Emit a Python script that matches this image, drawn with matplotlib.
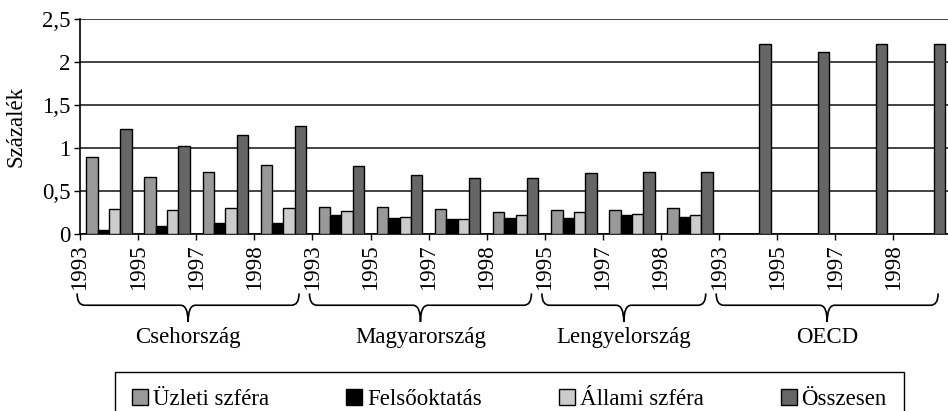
import numpy as np
import matplotlib.pyplot as plt
from matplotlib.path import Path
from matplotlib.patches import PathPatch
from matplotlib.transforms import blended_transform_factory

plt.rcParams['font.family'] = ['Liberation Serif', 'DejaVu Serif']

# Adatok (K+F ráfordítás a GDP százalékában)
orszagok = ['Csehország', 'Magyarország', 'Lengyelország', 'OECD']
evek = [
    ['1993', '1995', '1997', '1998'],
    ['1993', '1995', '1997', '1998'],
    ['1995', '1997', '1998'],
    ['1993', '1995', '1997', '1998'],
]
sorozatok = ['Üzleti szféra', 'Felsőoktatás', 'Állami szféra', 'Összesen']
nan = np.nan
uzleti = [0.90, 0.67, 0.73, 0.81, 0.32, 0.32, 0.29, 0.26, 0.28, 0.28, 0.30, nan, nan, nan, nan]
felso = [0.05, 0.10, 0.13, 0.13, 0.22, 0.19, 0.18, 0.19, 0.19, 0.22, 0.20, nan, nan, nan, nan]
allami = [0.29, 0.28, 0.31, 0.31, 0.27, 0.20, 0.18, 0.22, 0.26, 0.24, 0.22, nan, nan, nan, nan]
osszesen = [1.22, 1.03, 1.16, 1.26, 0.79, 0.69, 0.65, 0.65, 0.71, 0.73, 0.73, 2.21, 2.12, 2.21, 2.21]
szinek = ['#999999', '#000000', '#cccccc', '#666666']

fs = 16.5
fig = plt.figure(figsize=(9.48, 4.11), dpi=100)
ax = fig.add_axes([80 / 948, 1 - 234.3 / 411, 871.5 / 948, 215 / 411])

cimkek = [ev for csoport in evek for ev in csoport]
n = len(cimkek)
x = np.arange(n)
w = 0.195
for k, (ertek, nev, szin) in enumerate(zip([uzleti, felso, allami, osszesen], sorozatok, szinek)):
    ertek = np.array(ertek)
    van = ~np.isnan(ertek)  # hiányzó adatnál nincs oszlop
    ax.bar(x[van] + 0.5 + (k - 1.5) * w, ertek[van], width=w, color=szin, edgecolor='black',
           linewidth=1.0, label=nev, zorder=3)

ax.set_xlim(0, n)
ax.set_ylim(0, 2.5)
ax.set_xticks(x)
ax.set_xticklabels(cimkek, rotation=90, fontsize=fs)
yt = [0, 0.5, 1, 1.5, 2, 2.5]
ax.set_yticks(yt)
ax.set_yticklabels([f'{v:g}'.replace('.', ',') for v in yt], fontsize=fs)
ax.tick_params(direction='out', length=4, width=1, pad=3, colors='black')
ax.yaxis.grid(True, color='#222222', linewidth=1.2, zorder=0)
ax.spines['top'].set_visible(False)
ax.spines['right'].set_visible(False)
ax.spines['left'].set_linewidth(1.2)
ax.spines['bottom'].set_linewidth(1.2)
ax.set_ylabel('Százalék', fontsize=fs, labelpad=11)

# Kapcsos zárójelek az országcsoportok alatt
tr = blended_transform_factory(ax.transData, ax.transAxes)
yt0, ym, ytip = -0.275, -0.33, -0.408
start = 0
for orszag, csoport in zip(orszagok, evek):
    x0 = start - 0.05
    x1 = start + len(csoport) - 0.23
    xc = (x0 + x1) / 2
    r = 0.13
    verts = [(x0, yt0), (x0, ym), (x0 + r, ym),
             (xc - r, ym), (xc, ym), (xc, ytip),
             (xc, ym), (xc + r, ym),
             (x1 - r, ym), (x1, ym), (x1, yt0)]
    codes = [Path.MOVETO, Path.CURVE3, Path.CURVE3,
             Path.LINETO, Path.CURVE3, Path.CURVE3,
             Path.CURVE3, Path.CURVE3,
             Path.LINETO, Path.CURVE3, Path.CURVE3]
    ax.add_patch(PathPatch(Path(verts, codes), fill=False, lw=1.2, color='black',
                           transform=tr, clip_on=False))
    ax.text(xc, -0.482, orszag, transform=tr, ha='center', va='center', fontsize=fs)
    start += len(csoport)

fig.legend(loc='upper left', bbox_to_anchor=(115 / 948, 1 - 372 / 411, 789 / 948, 0),
           mode='expand', ncol=4, fontsize=fs, frameon=True, fancybox=False,
           edgecolor='black', framealpha=1, borderpad=0.75, handlelength=0.7,
           handleheight=0.7, handletextpad=0.2, borderaxespad=0)

fig.savefig('out.png', dpi=100)
